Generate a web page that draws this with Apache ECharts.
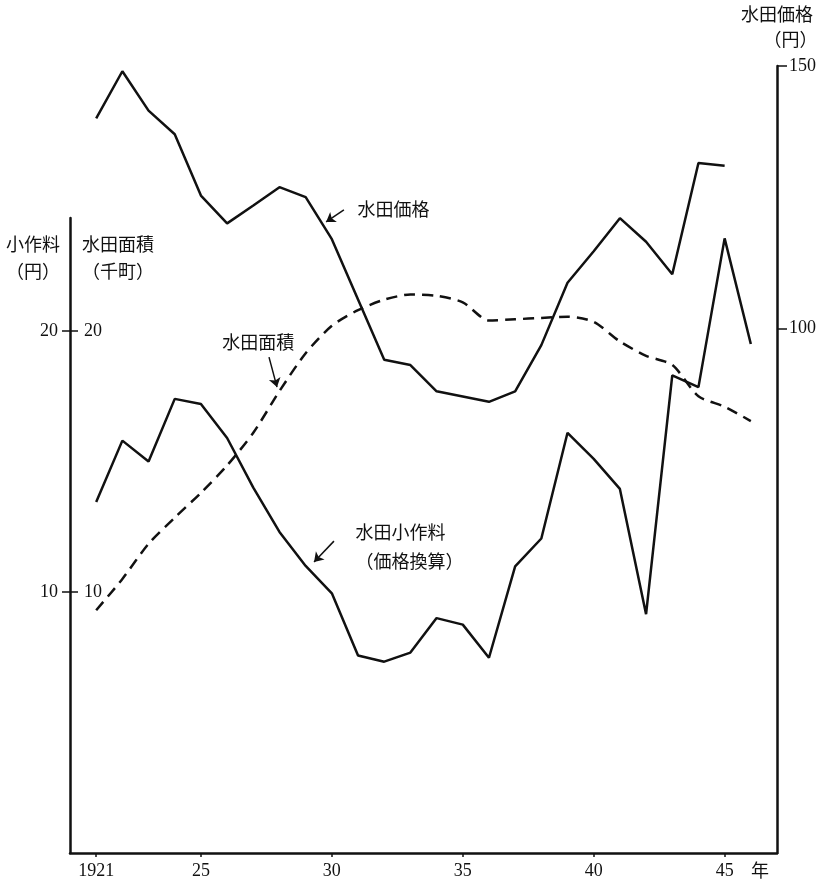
<!DOCTYPE html>
<html>
<head>
<meta charset="utf-8">
<script src="https://cdn.jsdelivr.net/npm/echarts@6/dist/echarts.min.js"></script>
<style>
html,body{margin:0;padding:0;background:#fff;}
#chart{width:823px;height:881px;}
</style>
</head>
<body>
<div id="chart"></div>
<script>
// ---- data ----
const years = [1921,1922,1923,1924,1925,1926,1927,1928,1929,1930,1931,1932,1933,1934,1935,1936,1937,1938,1939,1940,1941,1942,1943,1944,1945,1946];
// 水田価格 (円), right axis
const priceYen = [140,149,141.5,137,125.3,120,123.4,126.9,125,117,105.5,94,93,88,87,86,88,96.8,108.7,114.7,121,116.5,110.3,131.5,131,null];
// 水田小作料 (価格換算, 円), left outer axis
const rentYen = [13.45,15.8,15.0,17.4,17.2,15.9,14.0,12.3,11.0,9.95,7.57,7.33,7.68,9.0,8.75,7.48,10.98,12.05,16.1,15.1,13.95,9.15,18.3,17.85,23.55,19.5];
// 水田面積 (千町), left inner axis
const areaChou = [9.3,10.5,11.85,12.85,13.8,14.85,16.1,17.7,19.15,20.2,20.8,21.2,21.4,21.35,21.1,20.4,20.45,20.5,20.55,20.35,19.6,19.05,18.7,17.5,17.1,16.55];

const xTickYears = [1921,1925,1930,1935,1940,1945];
const xTickLabels = ['1921','25','30','35','40','45'];
const leftTicks = [10,20];
const rightTicks = [100,150];

// annotations: text, text anchor [year,value], arrow from/to [year,value]
const priceNote = {text:'水田価格', at:[1930.96,122.75], from:[1930.46,122.56], to:[1929.78,120.27]};
const areaNote  = {text:'水田面積', at:[1925.80,19.58], from:[1927.60,19.0], to:[1927.905,17.85]};
const rentNote  = {text:'水田小作料\n（価格換算）', at:[1930.88,11.74], from:[1930.08,11.95], to:[1929.32,11.15]};

const NUM_FONT = '"Liberation Serif", "DejaVu Serif", serif';
const CJK_FONT = '"Noto Sans CJK JP", "Noto Sans", sans-serif';
const INK = '#111';

function pairs(vals){ return years.map((y,i)=>[y, vals[i]]); }

function noteMarks(note, lh){
  return {
    markPoint:{
      silent:true, animation:false,
      symbol:'circle', symbolSize:1,
      itemStyle:{color:'rgba(0,0,0,0)'},
      label:{show:true, position:'right', distance:0, formatter:note.text,
             color:INK, fontSize:18, fontFamily:CJK_FONT, lineHeight:lh||22, align:'left'},
      data:[{coord:note.at}]
    },
    markLine:{
      silent:true, animation:false,
      symbol:['none','arrow'], symbolSize:9,
      label:{show:false},
      lineStyle:{color:INK, width:1.5, type:'solid'},
      data:[[{coord:note.from},{coord:note.to}]]
    }
  };
}

const chart = echarts.init(document.getElementById('chart'), null, {renderer:'canvas'});

const option = {
  animation:false,
  backgroundColor:'#fff',
  grid:[
    {left:70, right:46, top:66, bottom:28},   // price grid (right axis)
    {left:70, right:46, top:218, bottom:28}   // rent / area grid (left axes)
  ],
  xAxis:[
    {
      type:'value', gridIndex:0, min:1920, max:1947,
      axisLine:{show:true, lineStyle:{color:INK, width:2.5}},
      axisTick:{show:true, customValues:xTickYears, length:4, lineStyle:{color:INK, width:1.5}},
      axisLabel:{show:true, customValues:xTickYears, margin:9,
        formatter:v=>{const i=xTickYears.indexOf(v); return i>=0?xTickLabels[i]:'';},
        color:INK, fontSize:18, fontFamily:NUM_FONT},
      splitLine:{show:false},
      name:'年', nameLocation:'end', nameGap:-26,
      nameTextStyle:{color:INK, fontSize:18, fontFamily:CJK_FONT, verticalAlign:'top', padding:[8,0,0,0]}
    },
    {
      type:'value', gridIndex:1, min:1920, max:1947, show:false,
      splitLine:{show:false}
    }
  ],
  yAxis:[
    { // 小作料 (円) — outer left
      type:'value', gridIndex:1, position:'left', min:0, max:24.33,
      axisLine:{show:true, lineStyle:{color:INK, width:2.5}},
      axisTick:{show:true, customValues:leftTicks, length:8, lineStyle:{color:INK, width:1.5}},
      axisLabel:{show:true, customValues:leftTicks, margin:12, color:INK, fontSize:18, fontFamily:NUM_FONT},
      splitLine:{show:false},
      name:'小作料\n（円）', nameLocation:'end', nameGap:-13,
      nameTextStyle:{color:INK, fontSize:18, fontFamily:CJK_FONT, align:'right', verticalAlign:'top',
                     lineHeight:27, padding:[0,10,0,0]}
    },
    { // 水田面積 (千町) — inner left
      type:'value', gridIndex:1, position:'left', min:0, max:24.33,
      axisLine:{show:false},
      axisTick:{show:true, inside:true, customValues:leftTicks, length:8, lineStyle:{color:INK, width:1.5}},
      axisLabel:{show:true, inside:true, customValues:leftTicks, margin:14, color:INK, fontSize:18, fontFamily:NUM_FONT},
      splitLine:{show:false},
      name:'水田面積\n（千町）', nameLocation:'end', nameGap:-13,
      nameTextStyle:{color:INK, fontSize:18, fontFamily:CJK_FONT, align:'left', verticalAlign:'top',
                     lineHeight:27, padding:[0,0,0,12]}
    },
    { // 水田価格 (円) — right
      type:'value', gridIndex:0, position:'right', min:0, max:150,
      axisLine:{show:true, lineStyle:{color:INK, width:2.5}},
      axisTick:{show:true, customValues:rightTicks, length:10, lineStyle:{color:INK, width:1.5}},
      axisLabel:{show:true, customValues:rightTicks, margin:12, color:INK, fontSize:18, fontFamily:NUM_FONT},
      splitLine:{show:false},
      name:'水田価格\n　　（円）', nameLocation:'end', nameGap:14,
      nameTextStyle:{color:INK, fontSize:18, fontFamily:CJK_FONT, align:'center', verticalAlign:'bottom',
                     lineHeight:25}
    }
  ],
  series:[
    Object.assign({
      name:'水田価格', type:'line', xAxisIndex:0, yAxisIndex:2,
      data:pairs(priceYen), symbol:'none', connectNulls:false,
      lineStyle:{color:INK, width:2.5}
    }, noteMarks(priceNote)),
    Object.assign({
      name:'水田小作料', type:'line', xAxisIndex:1, yAxisIndex:0,
      data:pairs(rentYen), symbol:'none',
      lineStyle:{color:INK, width:2.5}
    }, noteMarks(rentNote, 29)),
    Object.assign({
      name:'水田面積', type:'line', xAxisIndex:1, yAxisIndex:1,
      data:pairs(areaChou), symbol:'none', smooth:0.25,
      lineStyle:{color:INK, width:2.5, type:[11,7]}
    }, noteMarks(areaNote))
  ]
};
chart.setOption(option);
</script>
</body>
</html>
